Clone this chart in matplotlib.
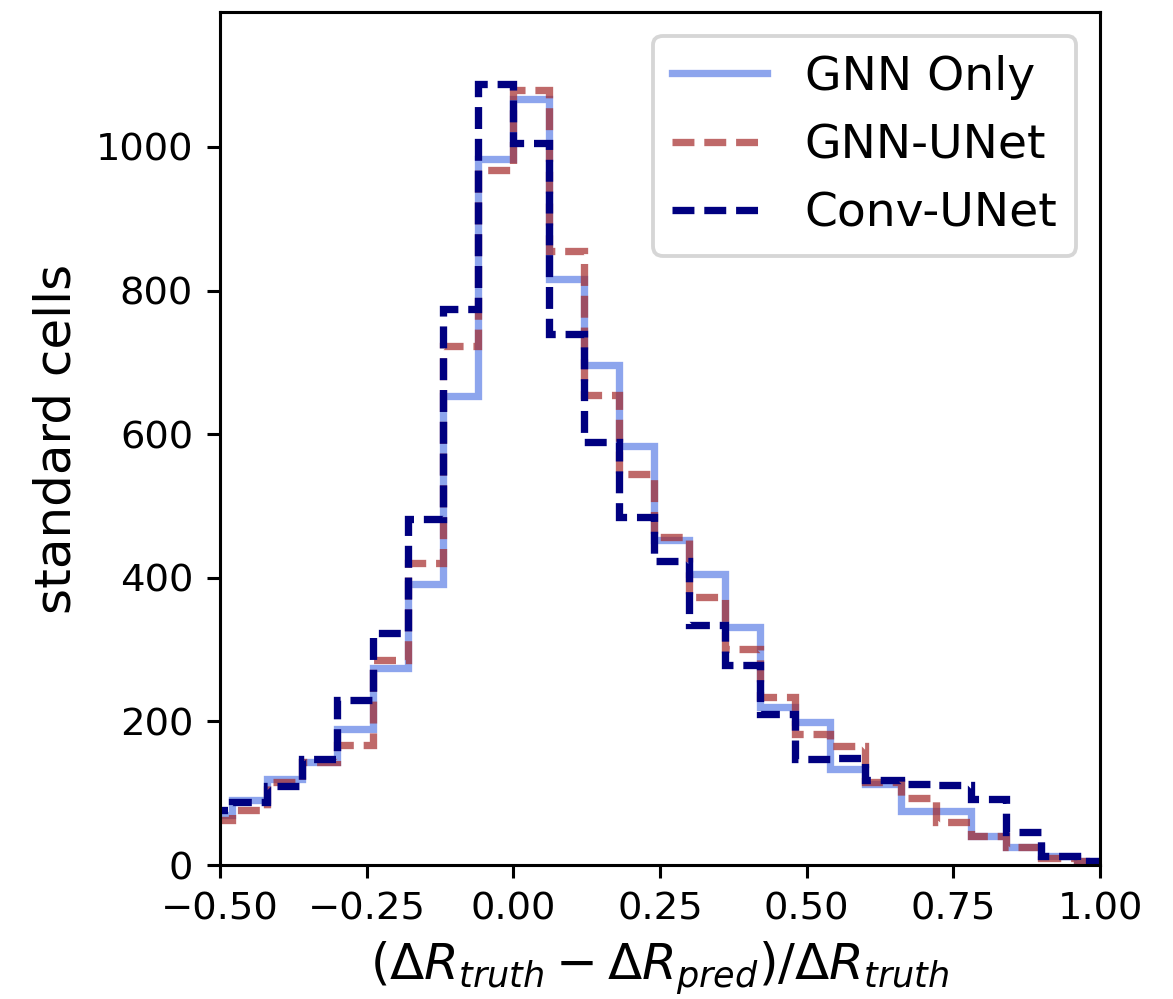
import numpy as np
import matplotlib
matplotlib.use("Agg")
import matplotlib.pyplot as plt
from matplotlib.lines import Line2D

# bin edges (width 0.06)
bin_edges = np.round(np.arange(-0.54, 1.0201, 0.06), 2)

gnn_only = [70, 90, 120, 143, 189, 275, 391, 653, 983, 1067, 816, 696, 584,
            452, 405, 331, 220, 199, 134, 113, 75, 75, 41, 25, 12, 5]
gnn_unet = [62, 77, 115, 143, 167, 285, 420, 723, 968, 1080, 855, 654, 545,
            457, 373, 301, 234, 182, 166, 116, 94, 60, 41, 25, 10, 5]
conv_unet = [77, 88, 110, 148, 230, 323, 482, 774, 1088, 1006, 739, 589, 484,
             424, 334, 278, 210, 147, 149, 119, 113, 111, 92, 46, 13, 6]

labels = ["GNN Only", "GNN-UNet", "Conv-UNet"]
xticks = [-0.5, -0.25, 0.0, 0.25, 0.5, 0.75, 1.0]
yticks = [0, 200, 400, 600, 800, 1000]

DPI = 277
fig = plt.figure(figsize=(1173 / DPI, 999 / DPI), dpi=DPI)
ax = fig.add_axes([220 / 1173, (999 - 865) / 999, (1100 - 220) / 1173, (865 - 12) / 999])

LW = 1.9
DASH = (0, (3.0, 1.35))
styles = [dict(color="royalblue", alpha=0.6, lw=LW, ls="-"),
          dict(color="brown", alpha=0.7, lw=LW, ls=DASH),
          dict(color="navy", alpha=1.0, lw=LW, ls=DASH)]

for vals, lab, st in zip([gnn_only, gnn_unet, conv_unet], labels, styles):
    ax.stairs(vals, bin_edges, label=lab, baseline=0, **st)

ax.set_xlim(-0.5, 1.0)
ax.set_ylim(0, 1188)
ax.set_xticks(xticks)
ax.set_yticks(yticks)
ax.tick_params(labelsize=10)
ax.set_xlabel(r"$(\Delta R_{truth} - \Delta R_{pred})/\Delta R_{truth}$", fontsize=13, labelpad=3)
ax.set_ylabel("standard cells", fontsize=13)

handles = [Line2D([], [], **st) for st in styles]
ax.legend(handles, labels, loc="upper right", fontsize=12.3)

fig.savefig("out.png", dpi=DPI)
